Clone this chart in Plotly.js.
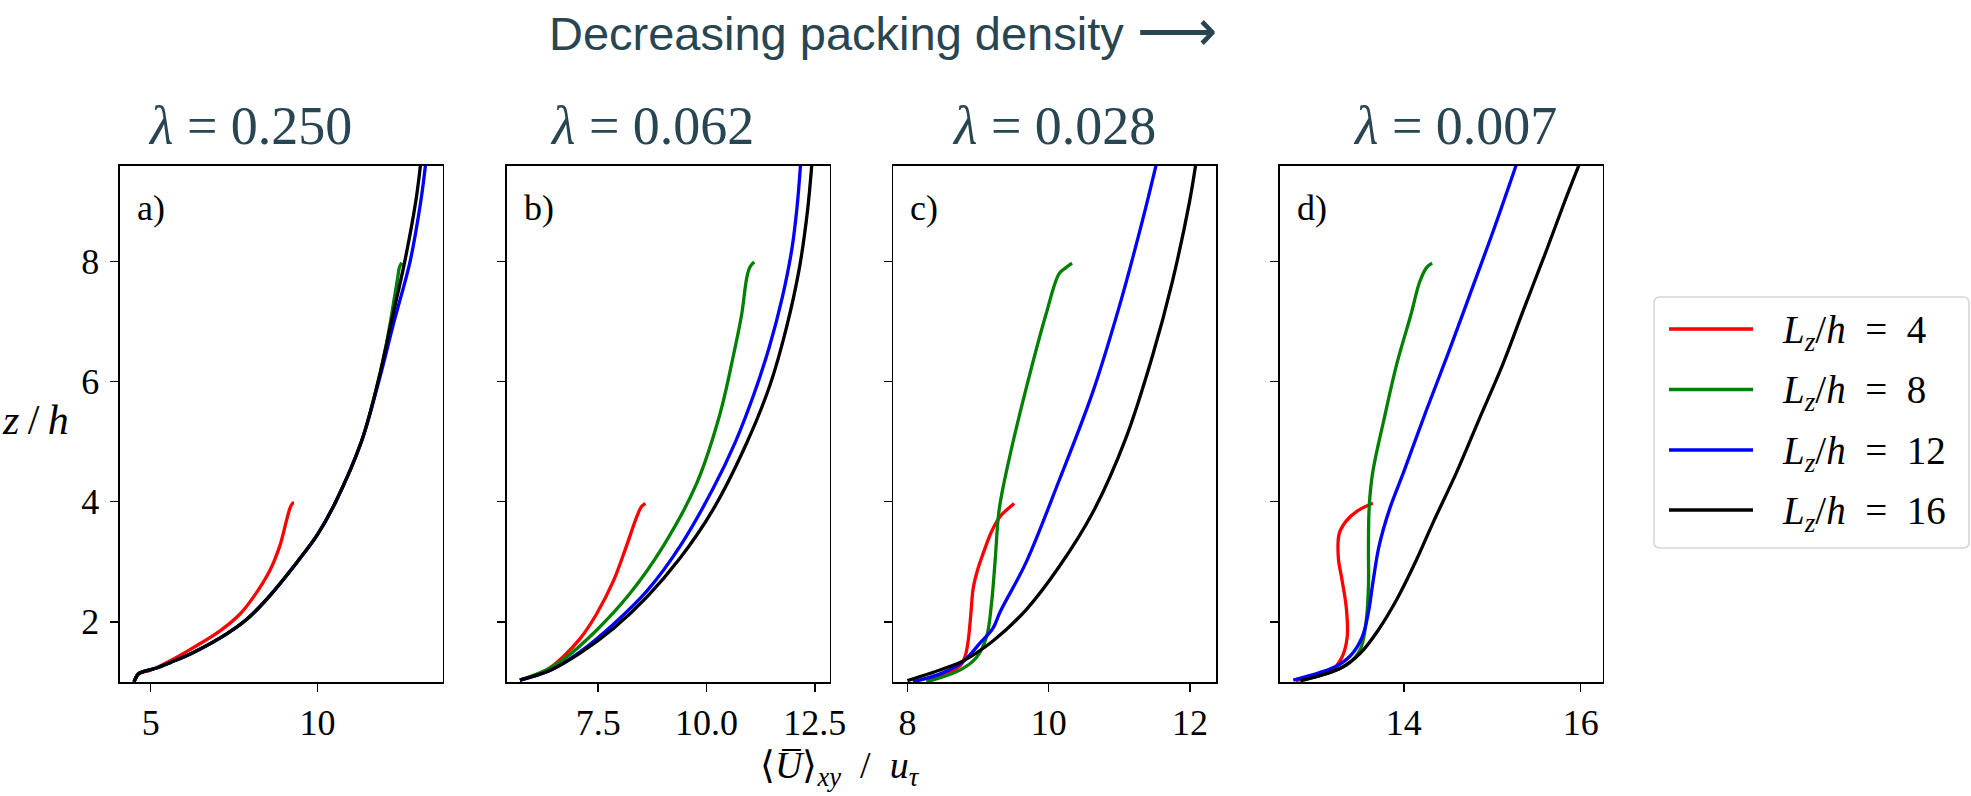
<!DOCTYPE html>
<html><head><meta charset="utf-8">
<script src="https://cdn.plot.ly/plotly-3.0.1.min.js"></script>
<style>html,body{margin:0;padding:0;background:#fff}</style>
</head><body><div id="chart" style="width:1971px;height:796px"></div>
<script>
// ---------------- data ----------------
const superTitle = 'Decreasing packing density <span style="font-size:56px">⟶</span>';
const panelTitles = ['<i>λ</i> = 0.250', '<i>λ</i> = 0.062', '<i>λ</i> = 0.028', '<i>λ</i> = 0.007'];
const panelLabels = ['a)', 'b)', 'c)', 'd)'];
const seriesNames = ['<i>L</i><sub><i>z</i></sub>/<i>h</i>\u2002=\u20024', '<i>L</i><sub><i>z</i></sub>/<i>h</i>\u2002=\u20028',
                     '<i>L</i><sub><i>z</i></sub>/<i>h</i>\u2002=\u200212', '<i>L</i><sub><i>z</i></sub>/<i>h</i>\u2002=\u200216'];
const seriesColors = ['#ff0000', '#008000', '#0000ff', '#000000'];
const xTickVals = [[5, 10], [7.5, 10, 12.5], [8, 10, 12], [14, 16]];
const xTickText = [['5', '10'], ['7.5', '10.0', '12.5'], ['8', '10', '12'], ['14', '16']];
const yTickVals = [2, 4, 6, 8];
const yTickText = ['2', '4', '6', '8'];
const xAxisTitle = '⟨<i>U̅</i>⟩<sub><i>xy</i></sub>\u2002/\u2002<i>u</i><sub><i>τ</i></sub>';
const yAxisTitle = '<i>z</i>\u2009/\u2009<i>h</i>';

// panel a) lambda = 0.250
const a_z4  = [1.0, 1.04, 1.14, 1.19, 1.35, 1.57, 1.85, 2.13, 2.41, 2.85, 3.26, 3.68, 3.88, 3.97, 3.98];
const a_U4  = [4.50, 4.53, 4.63, 4.98, 5.58, 6.28, 7.08, 7.68, 8.08, 8.57, 8.87, 9.07, 9.17, 9.25, 9.30];
const a_z8  = [1.0, 1.13, 1.17, 1.23, 1.32, 1.49, 1.80, 2.05, 2.42, 3.0, 3.45, 4.0, 5.0, 6.0, 6.6, 7.0, 7.4, 7.7, 7.9, 7.98];
const a_U8  = [4.50, 4.63, 4.78, 5.18, 5.58, 6.28, 7.28, 7.90, 8.55, 9.40, 10.0, 10.55, 11.32, 11.82, 12.06, 12.19, 12.31, 12.40, 12.46, 12.53];
const a_z12 = [1.0, 1.13, 1.17, 1.23, 1.32, 1.49, 1.80, 2.05, 2.42, 3.0, 3.45, 4.0, 5.0, 6.0, 7.0, 8.0, 9.0, 9.6];
const a_U12 = [4.50, 4.63, 4.78, 5.18, 5.58, 6.28, 7.28, 7.90, 8.55, 9.40, 10.0, 10.55, 11.32, 11.84, 12.30, 12.78, 13.10, 13.24];
const a_z16 = [1.0, 1.13, 1.17, 1.23, 1.32, 1.49, 1.80, 2.05, 2.42, 3.0, 3.45, 4.0, 5.0, 6.0, 7.0, 8.0, 9.0, 9.6];
const a_U16 = [4.50, 4.63, 4.78, 5.18, 5.58, 6.28, 7.28, 7.90, 8.55, 9.40, 10.0, 10.55, 11.32, 11.82, 12.22, 12.62, 12.95, 13.09];

// panel b) lambda = 0.062
const b_z4  = [1.03, 1.20, 1.42, 1.72, 2.13, 2.68, 3.26, 3.75, 3.92, 3.97];
const b_U4  = [5.69, 6.31, 6.69, 7.08, 7.46, 7.85, 8.15, 8.39, 8.50, 8.59];
const b_z8  = [1.03, 1.20, 1.37, 1.86, 2.47, 3.26, 4.30, 5.46, 6.43, 7.11, 7.73, 7.90, 7.99];
const b_U8  = [5.69, 6.30, 6.69, 7.46, 8.23, 9.00, 9.77, 10.31, 10.62, 10.81, 10.93, 11.00, 11.10];
const b_z12 = [1.03, 1.19, 1.50, 1.96, 2.51, 3.26, 4.23, 5.0, 5.8, 6.6, 7.4, 8.2, 8.9, 9.6];
const b_U12 = [5.69, 6.38, 7.08, 7.85, 8.62, 9.39, 10.16, 10.67, 11.10, 11.46, 11.75, 11.97, 12.09, 12.17];
const b_z16 = [1.03, 1.19, 1.48, 1.89, 2.41, 3.06, 3.88, 4.98, 5.95, 6.91, 7.87, 8.83, 9.6];
const b_U16 = [5.69, 6.38, 7.08, 7.85, 8.62, 9.39, 10.16, 10.93, 11.47, 11.85, 12.14, 12.33, 12.43];

// panel c) lambda = 0.028
const c_z4  = [1.02, 1.27, 1.44, 1.68, 2.16, 2.55, 2.85, 3.13, 3.50, 3.75, 3.94, 3.97];
const c_U4  = [8.27, 8.75, 8.82, 8.86, 8.90, 8.93, 8.99, 9.07, 9.19, 9.31, 9.48, 9.51];
const c_z8  = [1.0, 1.20, 1.41, 1.75, 2.30, 2.99, 3.88, 4.71, 5.88, 7.11, 7.80, 7.90, 7.97];
const c_U8  = [8.27, 8.75, 8.98, 9.12, 9.19, 9.24, 9.30, 9.44, 9.68, 9.96, 10.15, 10.25, 10.33];
const c_z12 = [1.0, 1.15, 1.34, 1.65, 1.89, 2.16, 2.99, 4.36, 5.81, 7.25, 8.69, 9.6];
const c_U12 = [8.08, 8.50, 8.79, 9.03, 9.21, 9.31, 9.68, 10.15, 10.62, 11.00, 11.33, 11.52];
const c_z16 = [1.02, 1.24, 1.35, 1.68, 2.20, 2.92, 3.81, 5.05, 6.43, 7.66, 8.97, 9.6];
const c_U16 = [8.00, 8.56, 8.79, 9.21, 9.68, 10.15, 10.62, 11.09, 11.47, 11.75, 11.99, 12.08];

// panel d) lambda = 0.007
const d_z4  = [1.02, 1.13, 1.20, 1.41, 1.75, 2.23, 2.71, 3.06, 3.47, 3.68, 3.85, 3.95, 3.97];
const d_U4  = [12.78, 13.05, 13.19, 13.30, 13.36, 13.35, 13.30, 13.26, 13.27, 13.35, 13.48, 13.61, 13.65];
const d_z8  = [1.02, 1.17, 1.31, 1.55, 1.96, 2.58, 3.26, 3.95, 4.50, 5.33, 6.29, 7.11, 7.66, 7.90, 7.97];
const d_U8  = [12.83, 13.19, 13.38, 13.51, 13.57, 13.60, 13.60, 13.61, 13.65, 13.77, 13.92, 14.08, 14.18, 14.26, 14.32];
const d_z12 = [1.03, 1.15, 1.27, 1.44, 1.75, 2.16, 2.65, 3.26, 3.88, 4.5, 5.5, 6.5, 7.5, 8.5, 9.6];
const d_U12 = [12.75, 13.04, 13.25, 13.40, 13.53, 13.60, 13.65, 13.72, 13.84, 14.00, 14.25, 14.51, 14.76, 15.01, 15.27];
const d_z16 = [1.02, 1.10, 1.24, 1.48, 1.86, 2.37, 2.99, 3.68, 4.50, 5.40, 6.29, 7.18, 8.21, 9.0, 9.6];
const d_U16 = [12.83, 13.04, 13.30, 13.51, 13.71, 13.92, 14.13, 14.34, 14.60, 14.86, 15.12, 15.35, 15.62, 15.82, 15.98];

const panelsZ = [[a_z4, a_z8, a_z12, a_z16], [b_z4, b_z8, b_z12, b_z16], [c_z4, c_z8, c_z12, c_z16], [d_z4, d_z8, d_z12, d_z16]];
const panelsU = [[a_U4, a_U8, a_U12, a_U16], [b_U4, b_U8, b_U12, b_U16], [c_U4, c_U8, c_U12, c_U16], [d_U4, d_U8, d_U12, d_U16]];

// ---------------- layout geometry ----------------
const W = 1971, H = 796;
const M = {l: 120, r: 368, t: 166, b: 114};
const PW = W - M.l - M.r, PH = H - M.t - M.b;
const px = v => (v - M.l) / PW;          // pixel -> paper x
const py = v => (H - M.b - v) / PH;      // pixel -> paper y
const panelLeft = [120, 506.7, 893.3, 1280];
const panelW = 322.8;
const xRanges = [[4.08, 13.76], [5.385, 12.84], [7.80, 12.37], [12.60, 16.25]];
const yRange = [0.998, 9.587];
const titleCenters = [250, 652, 1054, 1455];

const serif = 'Liberation Serif, Times New Roman, serif';
const titleColor = '#284552';

const traces = [];
const layout = {
  width: W, height: H,
  margin: M,
  paper_bgcolor: '#ffffff', plot_bgcolor: '#ffffff',
  showlegend: false,
  font: {family: serif, color: '#000000', size: 36},
  annotations: [], shapes: []
};

for (let p = 0; p < 4; p++) {
  const sfx = p === 0 ? '' : String(p + 1);
  for (let s = 0; s < 4; s++) {
    traces.push({
      type: 'scatter', mode: 'lines',
      x: panelsU[p][s], y: panelsZ[p][s],
      xaxis: 'x' + sfx, yaxis: 'y' + sfx,
      name: seriesNames[s],
      line: {color: seriesColors[s], width: 3.3, shape: 'spline', smoothing: 1},
      hoverinfo: 'skip'
    });
  }
  const common = {
    showgrid: false, zeroline: false, showline: true, mirror: true,
    linecolor: '#000000', linewidth: 1.6,
    ticks: 'outside', ticklen: 8, tickwidth: 1.6, tickcolor: '#000000',
    tickfont: {family: serif, size: 36, color: '#000000'}
  };
  layout['xaxis' + sfx] = Object.assign({}, common, {
    domain: [px(panelLeft[p]), px(panelLeft[p] + panelW)],
    range: xRanges[p], anchor: 'y' + sfx,
    tickmode: 'array', tickvals: xTickVals[p], ticktext: xTickText[p]
  });
  const yax = Object.assign({}, common, {
    domain: [0, 1], range: yRange, anchor: 'x' + sfx,
    tickmode: 'array', tickvals: yTickVals,
    showticklabels: p === 0, ticklabelstandoff: 4
  });
  if (p === 0) yax.ticktext = yTickText;
  layout['yaxis' + sfx] = yax;
  layout.annotations.push({
    xref: 'paper', yref: 'paper', x: px(titleCenters[p]), y: py(126),
    xanchor: 'center', yanchor: 'middle', showarrow: false,
    text: panelTitles[p], font: {family: serif, size: 54, color: titleColor}
  });
  layout.annotations.push({
    xref: 'paper', yref: 'paper', x: px(panelLeft[p] + 15), y: py(208),
    xanchor: 'left', yanchor: 'middle', showarrow: false,
    text: panelLabels[p], font: {family: serif, size: 36, color: '#000000'}
  });
}

// super title
layout.annotations.push({
  xref: 'paper', yref: 'paper', x: px(547), y: py(30),
  xanchor: 'left', yanchor: 'middle', showarrow: false,
  text: superTitle, font: {family: 'Liberation Sans, Arial, sans-serif', size: 47, color: titleColor}
});
// axis titles
layout.annotations.push({
  xref: 'paper', yref: 'paper', x: px(840), y: py(768),
  xanchor: 'center', yanchor: 'middle', showarrow: false,
  text: xAxisTitle, font: {family: serif, size: 38, color: '#000000'}
});
layout.annotations.push({
  xref: 'paper', yref: 'paper', x: px(35), y: py(420),
  xanchor: 'center', yanchor: 'middle', showarrow: false,
  text: yAxisTitle, font: {family: serif, size: 42, color: '#000000'}
});

// custom legend (rounded frame, long line samples)
const LG = {x0: 1654, x1: 1969, y0: 297, y1: 548, r: 6};
const rr = LG.r;
layout.shapes.push({
  type: 'path', xref: 'paper', yref: 'paper', layer: 'above',
  path: `M ${px(LG.x0 + rr)} ${py(LG.y0)} L ${px(LG.x1 - rr)} ${py(LG.y0)} Q ${px(LG.x1)} ${py(LG.y0)} ${px(LG.x1)} ${py(LG.y0 + rr)} ` +
        `L ${px(LG.x1)} ${py(LG.y1 - rr)} Q ${px(LG.x1)} ${py(LG.y1)} ${px(LG.x1 - rr)} ${py(LG.y1)} ` +
        `L ${px(LG.x0 + rr)} ${py(LG.y1)} Q ${px(LG.x0)} ${py(LG.y1)} ${px(LG.x0)} ${py(LG.y1 - rr)} ` +
        `L ${px(LG.x0)} ${py(LG.y0 + rr)} Q ${px(LG.x0)} ${py(LG.y0)} ${px(LG.x0 + rr)} ${py(LG.y0)} Z`,
  line: {color: '#d6d6d6', width: 1.6}, fillcolor: 'rgba(255,255,255,0.8)'
});
const legendRows = [329, 389.5, 450, 510];
for (let s = 0; s < 4; s++) {
  layout.shapes.push({
    type: 'line', xref: 'paper', yref: 'paper', layer: 'above',
    x0: px(1669), x1: px(1753), y0: py(legendRows[s]), y1: py(legendRows[s]),
    line: {color: seriesColors[s], width: 3.3}
  });
  layout.annotations.push({
    xref: 'paper', yref: 'paper', x: px(1780), y: py(legendRows[s] + 3),
    xanchor: 'left', yanchor: 'middle', showarrow: false,
    text: seriesNames[s], font: {family: serif, size: 39, color: '#000000'}
  });
}

Plotly.newPlot('chart', traces, layout, {staticPlot: true, displayModeBar: false});
</script>
</body></html>
